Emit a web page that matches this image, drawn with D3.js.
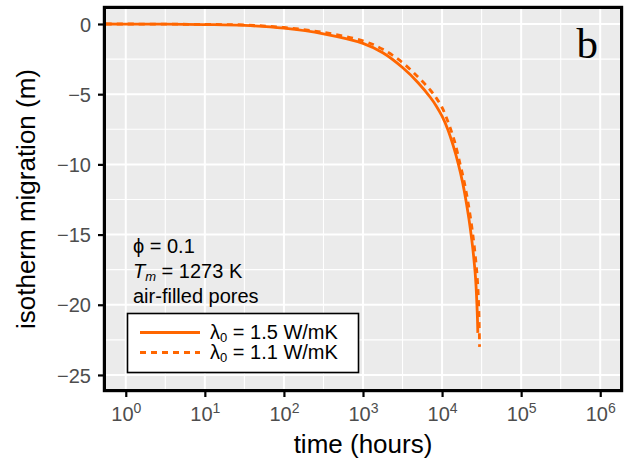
<!DOCTYPE html>
<html><head><meta charset="utf-8">
<script src="https://cdn.jsdelivr.net/npm/d3@7"></script>
<style>
body{margin:0;background:#fff;}
svg{display:block;}
</style></head>
<body>
<script>
// ---- data ----
const solidTime  = [0.56, 1, 3.16, 10, 31.6, 100, 316, 1000, 1780, 3160, 5010, 7080, 8510, 10000, 11750, 13800, 16100, 18200, 19950, 21880, 23770, 25120, 26180, 26920, 27540, 27990, 28310];
const solidValue = [0, -0.005, -0.01, -0.04, -0.1, -0.3, -0.7, -1.38, -2.05, -3.1, -4.2, -5.22, -5.87, -6.57, -7.48, -8.65, -10, -11.3, -12.5, -13.9, -15.4, -16.6, -17.7, -18.7, -19.9, -20.9, -22.0];
const dashTime   = [0.56, 1, 10, 31.6, 100, 316, 1000, 1780, 3160, 5010, 7080, 8510, 10000, 11220, 12590, 14450, 16940, 19140, 20990, 23010, 25000, 26420, 27540, 28310, 28970, 29380, 29790];
const dashValue  = [0, 0, -0.03, -0.07, -0.25, -0.6, -1.2, -1.8, -2.75, -3.8, -4.7, -5.3, -5.95, -6.6, -7.35, -8.4, -10, -11.3, -12.5, -13.9, -15.4, -16.6, -17.7, -18.7, -19.9, -21.0, -23.0];
const xMajor = [1, 10, 100, 1000, 1e4, 1e5, 1e6];
const xExp   = ["0","1","2","3","4","5","6"];
const xMinor = [3.162, 31.62, 316.2, 3162, 31623, 316228];
const yMajor = [0, -5, -10, -15, -20, -25];
const yMinor = [-2.5, -7.5, -12.5, -17.5, -22.5];
const legendLabels = ["1.5 W/mK", "1.1 W/mK"];
const notes = ["ϕ = 0.1", "= 1273 K", "air-filled pores"];

const W = 625, H = 471;
const L = 106, R = 620, T = 9, B = 389;
const orange = "#FF6600";
const font = "'Liberation Sans', Arial, Helvetica, sans-serif";

const svg = d3.select("body").append("svg").attr("width", W).attr("height", H)
  .style("font-family", font);

const x = d3.scaleLog().domain([Math.pow(10,-0.25), Math.pow(10,6.25)]).range([L, R]);
const y = d3.scaleLinear().domain([-26.0, 1.068]).range([B, T]);

// panel
svg.append("rect").attr("x", L).attr("y", T).attr("width", R-L).attr("height", B-T).attr("fill", "#EBEBEB");
const grid = svg.append("g");
xMinor.forEach(v => grid.append("line").attr("x1", x(v)).attr("x2", x(v)).attr("y1", T).attr("y2", B).attr("stroke", "#fff").attr("stroke-width", 1.1));
yMinor.forEach(v => grid.append("line").attr("y1", y(v)).attr("y2", y(v)).attr("x1", L).attr("x2", R).attr("stroke", "#fff").attr("stroke-width", 1.1));
xMajor.forEach(v => grid.append("line").attr("x1", x(v)).attr("x2", x(v)).attr("y1", T).attr("y2", B).attr("stroke", "#fff").attr("stroke-width", 2));
yMajor.forEach(v => grid.append("line").attr("y1", y(v)).attr("y2", y(v)).attr("x1", L).attr("x2", R).attr("stroke", "#fff").attr("stroke-width", 2));

// lines
const line = d3.line().x(d => x(d[0])).y(d => y(d[1])).curve(d3.curveCatmullRom.alpha(0.5));
svg.append("clipPath").attr("id", "clip").append("rect").attr("x", L).attr("y", T).attr("width", R-L).attr("height", B-T);
const lines = svg.append("g").attr("clip-path", "url(#clip)");
lines.append("path").datum(solidTime.map((t,i) => [t, solidValue[i]]))
  .attr("d", line).attr("fill", "none").attr("stroke", orange).attr("stroke-width", 2.8);
lines.append("path").datum(dashTime.map((t,i) => [t, dashValue[i]]))
  .attr("d", line).attr("fill", "none").attr("stroke", orange).attr("stroke-width", 2.8).attr("stroke-dasharray", "6,5");

// border
svg.append("rect").attr("x", L-1.6).attr("y", T-1.6).attr("width", R-L+3.2).attr("height", B-T+3.2)
  .attr("fill", "none").attr("stroke", "#000").attr("stroke-width", 3.2);

// axes
const xAxis = d3.axisBottom(x).tickValues(xMajor).tickSize(5).tickPadding(3).tickFormat(() => "");
const gx = svg.append("g").attr("transform", `translate(0,${B+3})`).call(xAxis);
gx.select(".domain").remove();
gx.selectAll(".tick line").attr("stroke", "#000").attr("stroke-width", 2.2);
gx.selectAll(".tick").each(function(d, i) {
  const t = d3.select(this).append("text").attr("fill", "#4D4D4D").attr("font-size", 20)
    .attr("text-anchor", "middle").attr("y", 29).attr("x", 0);
  t.append("tspan").text("10");
  t.append("tspan").attr("font-size", 14).attr("dy", -8).text(xExp[i]);
});

const yAxis = d3.axisLeft(y).tickValues(yMajor).tickSize(5).tickPadding(7)
  .tickFormat(d => d === 0 ? "0" : "\u2212" + Math.abs(d));
const gy = svg.append("g").attr("transform", `translate(${L-3},0)`).call(yAxis);
gy.select(".domain").remove();
gy.selectAll(".tick line").attr("stroke", "#000").attr("stroke-width", 2.2);
gy.selectAll(".tick text").attr("fill", "#4D4D4D").attr("font-size", 20).attr("font-family", font).attr("dy", "0.36em");

// axis titles
svg.append("text").attr("x", (L+R)/2).attr("y", 453).attr("text-anchor", "middle")
  .attr("font-size", 26).attr("fill", "#000").text("time (hours)");
svg.append("text").attr("transform", `translate(35,${(T+B)/2}) rotate(-90)`).attr("text-anchor", "middle")
  .attr("font-size", 26).attr("fill", "#000").text("isotherm migration (m)");

// panel label
svg.append("text").attr("x", 598).attr("y", 58).attr("text-anchor", "end")
  .attr("font-family", "'Liberation Serif', 'Times New Roman', serif").attr("font-size", 43).attr("fill", "#000").text("b");

// annotation
const ann = svg.append("g").attr("font-size", 20).attr("fill", "#000");
ann.append("text").attr("x", 133).attr("y", 253).text(notes[0]);
const t2 = ann.append("text").attr("x", 133).attr("y", 278);
t2.append("tspan").attr("font-style", "italic").text("T");
t2.append("tspan").attr("font-style", "italic").attr("font-size", 13).attr("dy", 3).text("m");
t2.append("tspan").attr("dy", -3).text(" " + notes[1]);
ann.append("text").attr("x", 133).attr("y", 303).text(notes[2]);

// legend
const lg = svg.append("g");
lg.append("rect").attr("x", 127.5).attr("y", 313.5).attr("width", 231).attr("height", 59)
  .attr("fill", "#fff").attr("stroke", "#000").attr("stroke-width", 1.6);
const ly = [332.5, 352.5];
legendLabels.forEach((lab, i) => {
  lg.append("line").attr("x1", 140).attr("x2", 200).attr("y1", ly[i]).attr("y2", ly[i])
    .attr("stroke", orange).attr("stroke-width", 2.8).attr("stroke-dasharray", i === 1 ? "6,5" : null);
  const tx = lg.append("text").attr("x", 210).attr("y", ly[i] + 6.5).attr("font-size", 20).attr("fill", "#000");
  tx.append("tspan").text("λ");
  tx.append("tspan").attr("font-size", 13).attr("dy", 3).text("0");
  tx.append("tspan").attr("dy", -3).text(" = " + lab);
});
</script>
</body></html>
